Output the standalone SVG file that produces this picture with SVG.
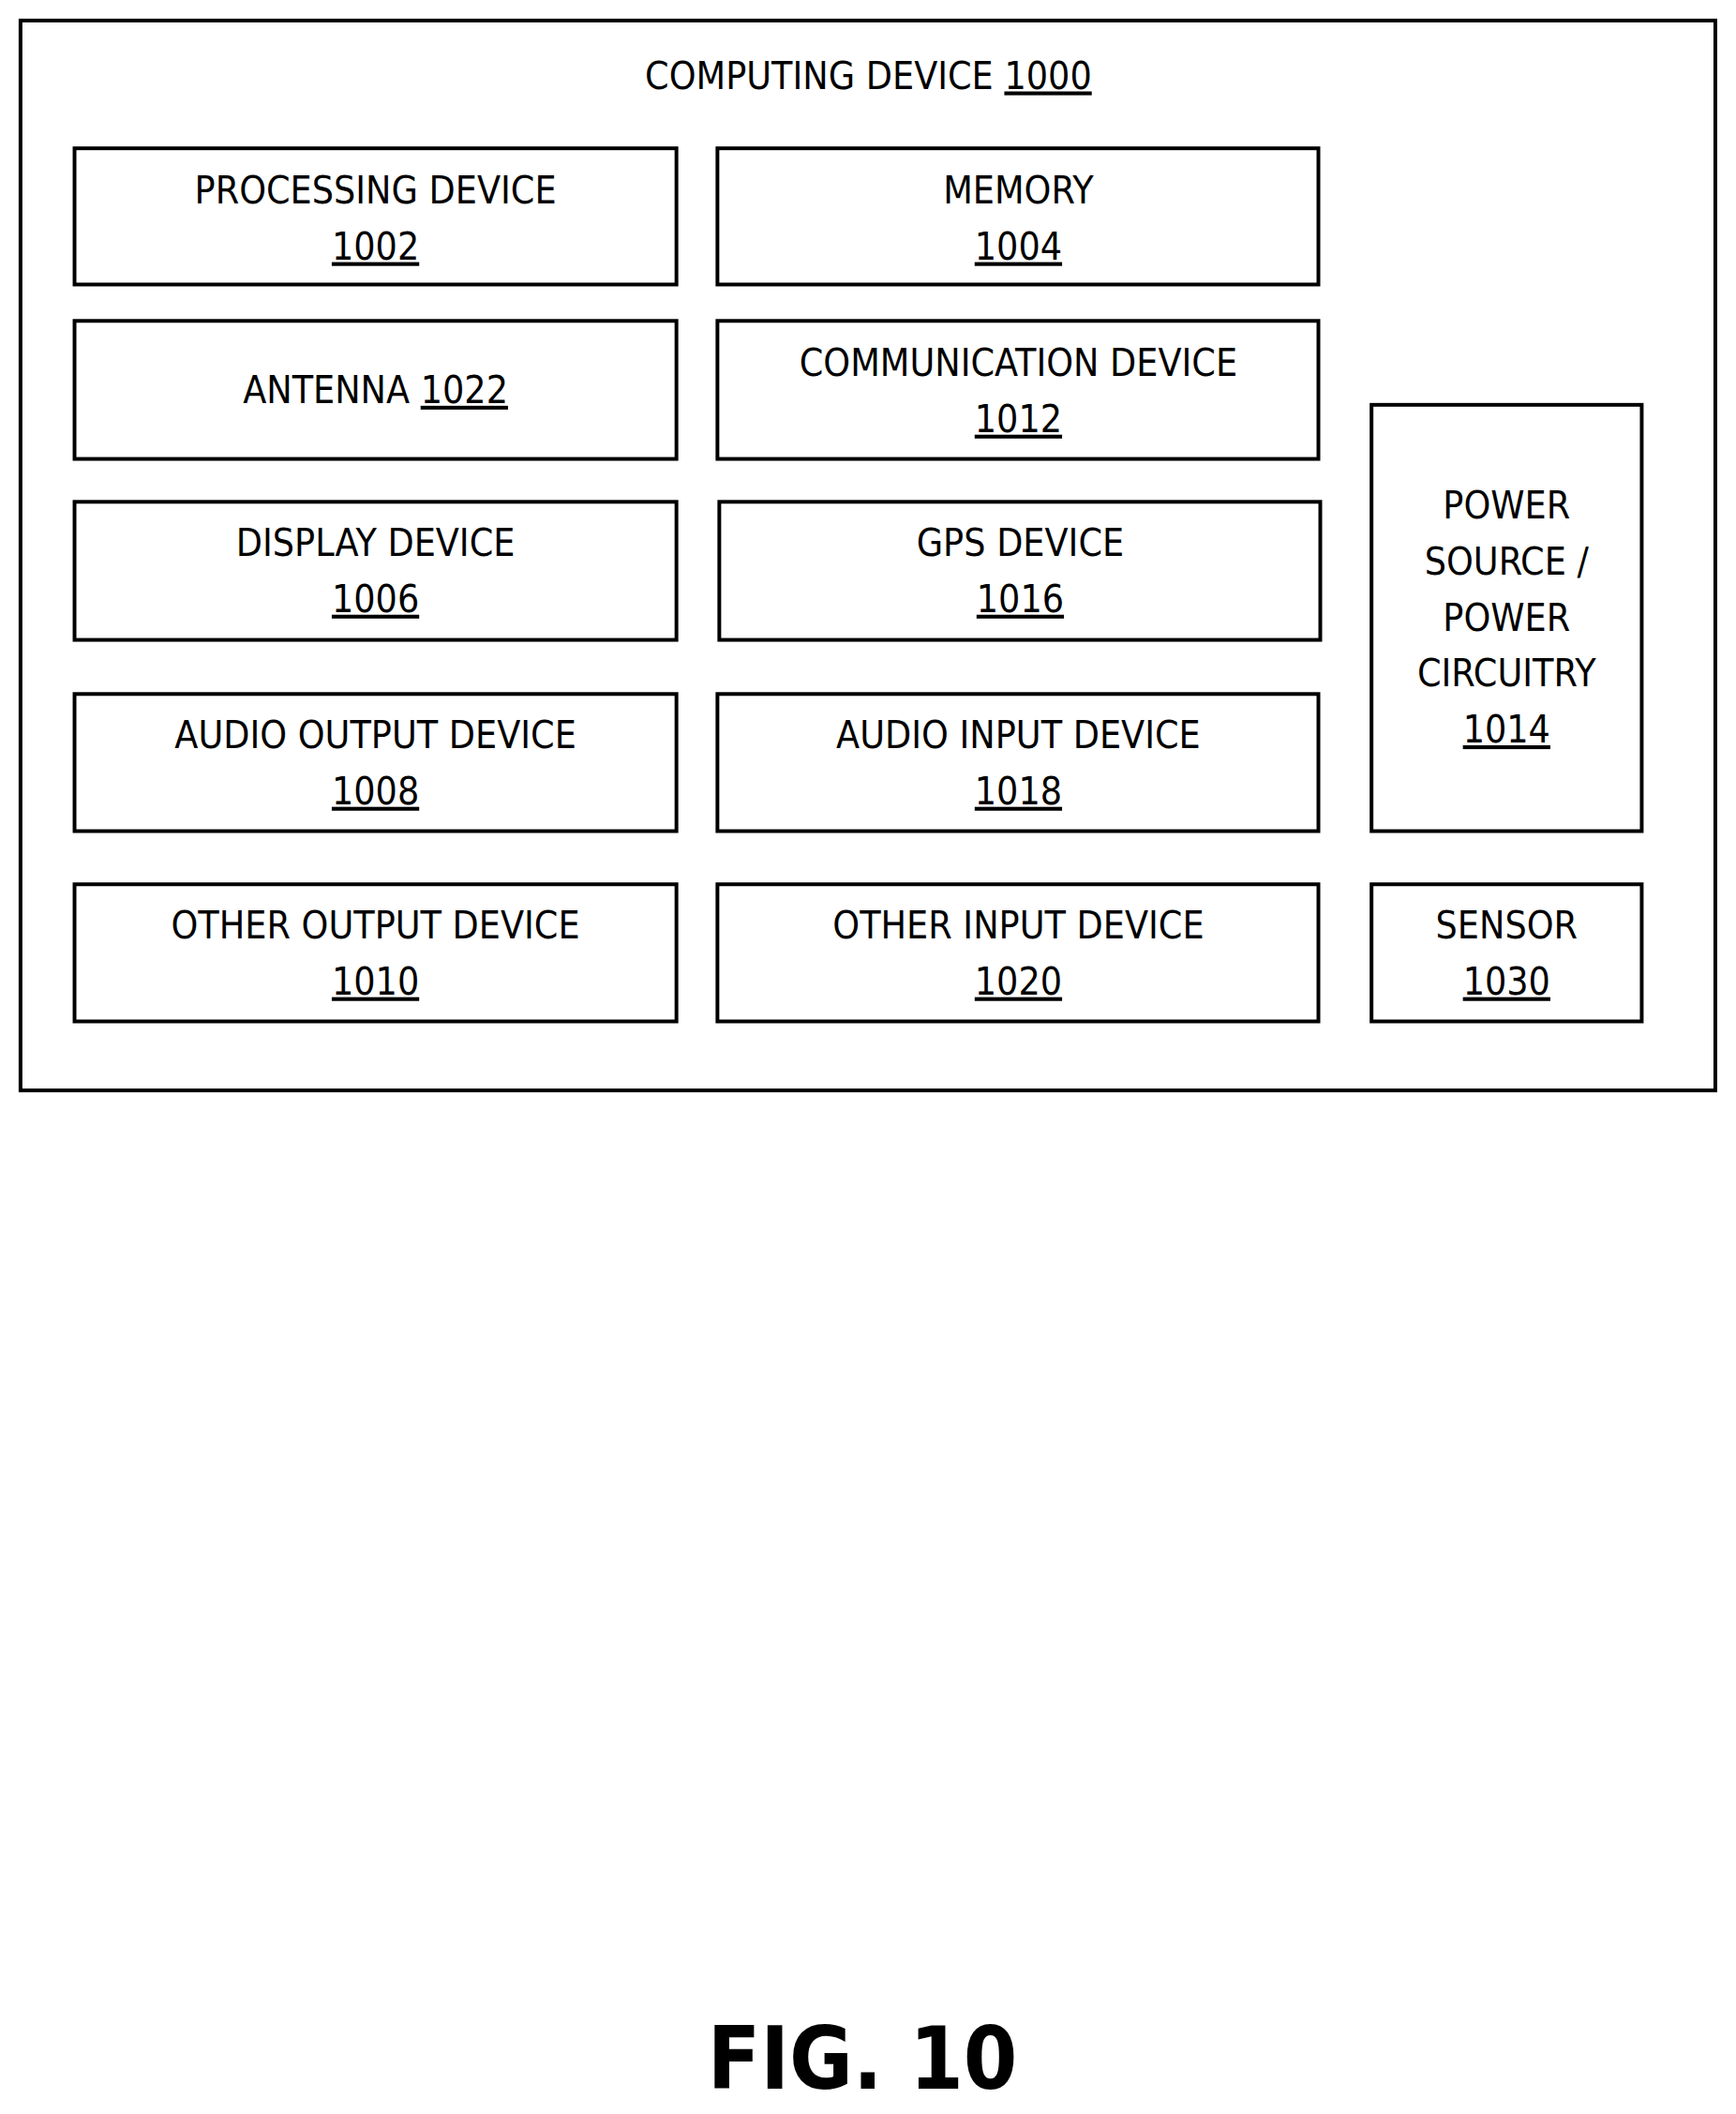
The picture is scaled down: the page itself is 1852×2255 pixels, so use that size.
<svg xmlns="http://www.w3.org/2000/svg" width="1852" height="2255" viewBox="0 0 1852 2255">
<style>
rect{fill:#fff;stroke:#000;stroke-width:4}
text{font-family:"DejaVu Sans Condensed","DejaVu Sans",sans-serif;font-size:41px;text-anchor:middle;fill:#000}
.u{text-decoration:underline}
.fig{font-size:92px;font-weight:bold}
</style>
<rect width="1852" height="2255" style="stroke:none"/>
<g transform="scale(0.994,0.995)">
<g id="computing-device">
<rect x="22" y="22" width="1819" height="1147"/>
<text x="932" y="95">COMPUTING DEVICE <tspan class="u">1000</tspan></text>
</g>
<g id="n1002"><rect x="80" y="159" width="646" height="146"/><text x="403" y="218">PROCESSING DEVICE</text><text x="403" y="278" class="u">1002</text></g>
<g id="n1004"><rect x="770" y="159" width="645" height="146"/><text x="1093" y="218">MEMORY</text><text x="1093" y="278" class="u">1004</text></g>
<g id="n1022"><rect x="80" y="344" width="646" height="148"/><text x="403" y="432">ANTENNA <tspan class="u">1022</tspan></text></g>
<g id="n1012"><rect x="770" y="344" width="645" height="148"/><text x="1093" y="403">COMMUNICATION DEVICE</text><text x="1093" y="463" class="u">1012</text></g>
<g id="n1006"><rect x="80" y="538" width="646" height="148"/><text x="403" y="596">DISPLAY DEVICE</text><text x="403" y="656" class="u">1006</text></g>
<g id="n1016"><rect x="772" y="538" width="645" height="148"/><text x="1095" y="596">GPS DEVICE</text><text x="1095" y="656" class="u">1016</text></g>
<g id="n1008"><rect x="80" y="744" width="646" height="147"/><text x="403" y="802">AUDIO OUTPUT DEVICE</text><text x="403" y="862" class="u">1008</text></g>
<g id="n1018"><rect x="770" y="744" width="645" height="147"/><text x="1093" y="802">AUDIO INPUT DEVICE</text><text x="1093" y="862" class="u">1018</text></g>
<g id="n1010"><rect x="80" y="948" width="646" height="147"/><text x="403" y="1006">OTHER OUTPUT DEVICE</text><text x="403" y="1066" class="u">1010</text></g>
<g id="n1020"><rect x="770" y="948" width="645" height="147"/><text x="1093" y="1006">OTHER INPUT DEVICE</text><text x="1093" y="1066" class="u">1020</text></g>
<g id="n1014"><rect x="1472" y="434" width="290" height="457"/>
<text x="1617" y="556">POWER</text><text x="1617" y="616">SOURCE /</text><text x="1617" y="676">POWER</text><text x="1617" y="736">CIRCUITRY</text><text x="1617" y="796" class="u">1014</text></g>
<g id="n1030"><rect x="1472" y="948" width="290" height="147"/><text x="1617" y="1006">SENSOR</text><text x="1617" y="1066" class="u">1030</text></g>
<g id="connectors"/>
</g>
<text x="920" y="2228" class="fig">FIG. 10</text>
</svg>
